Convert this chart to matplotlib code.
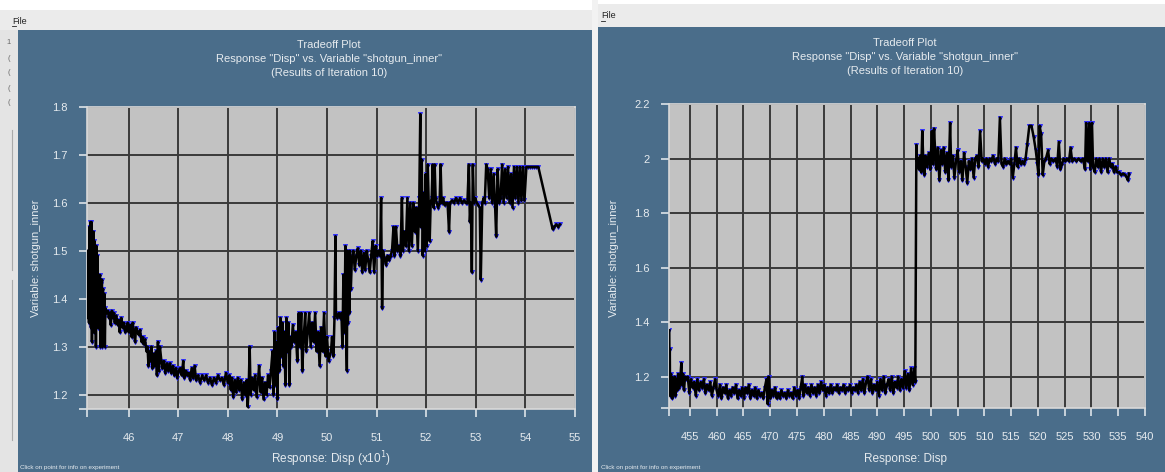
import matplotlib
matplotlib.use("Agg")
import matplotlib.pyplot as plt
from matplotlib.patches import Rectangle

plt.rcParams['font.family'] = ['Liberation Sans', 'DejaVu Sans']

# ---------------- data: left panel (Response Disp in units of 10) ----------------
left_x = [
    45.17, 45.18, 45.19, 45.20, 45.21, 45.22, 45.23, 45.24, 45.25, 45.26, 45.27, 45.28, 45.29, 45.30,
    45.31, 45.32, 45.33, 45.34, 45.35, 45.36, 45.37, 45.38, 45.40, 45.41, 45.42, 45.43, 45.44, 45.45,
    45.46, 45.47, 45.48, 45.50, 45.51, 45.52, 45.53, 45.55,
    45.58, 45.60, 45.62, 45.64, 45.66, 45.68, 45.70, 45.72, 45.75, 45.78, 45.80, 45.82, 45.85, 45.88,
    45.90, 45.93, 45.95, 45.98, 46.00, 46.03, 46.06, 46.08, 46.10, 46.13, 46.15, 46.18, 46.20, 46.23,
    46.26, 46.28, 46.30, 46.33,
    46.36, 46.38, 46.40, 46.42, 46.44, 46.46, 46.48, 46.50, 46.52, 46.55, 46.57, 46.59, 46.61, 46.63,
    46.66, 46.68, 46.71, 46.74, 46.77, 46.80, 46.83, 46.86, 46.89, 46.92, 46.95, 46.98, 47.01,
    47.04, 47.07, 47.10, 47.12, 47.15, 47.18, 47.21, 47.24, 47.27, 47.30, 47.33, 47.36, 47.40, 47.44,
    47.48, 47.52, 47.56, 47.60, 47.64, 47.68, 47.72, 47.76, 47.80, 47.84, 47.88, 47.92, 47.96,
    48.00, 48.03, 48.06, 48.08, 48.11, 48.14, 48.17, 48.20, 48.23, 48.26, 48.29, 48.32, 48.35, 48.38,
    48.40, 48.42, 48.44, 48.46, 48.49, 48.52, 48.55, 48.58, 48.61, 48.63, 48.66, 48.69, 48.72, 48.75,
    48.78, 48.81, 48.84, 48.87,
    48.90, 48.92, 48.94, 48.96, 48.98, 49.00, 49.02, 49.04, 49.06, 49.08, 49.10, 49.12, 49.14, 49.16,
    49.18, 49.20, 49.22, 49.24, 49.26, 49.28, 49.31, 49.34, 49.37, 49.40, 49.43, 49.45, 49.48, 49.50,
    49.53, 49.56, 49.58, 49.61, 49.64, 49.67, 49.70, 49.73, 49.76, 49.79, 49.82, 49.85, 49.88, 49.91,
    49.94, 49.97, 50.00, 50.03,
    50.08, 50.10, 50.13, 50.15, 50.17, 50.18, 50.21, 50.24, 50.27, 50.29, 50.31, 50.33, 50.35, 50.37,
    50.38, 50.40, 50.41, 50.42, 50.44, 50.45, 50.46, 50.48,
    50.50, 50.53, 50.56, 50.59, 50.62, 50.65, 50.68, 50.71, 50.74, 50.77, 50.80, 50.83, 50.86, 50.89,
    50.92, 50.95, 50.98, 51.01, 51.04, 51.07, 51.09, 51.11, 51.13, 51.16, 51.19, 51.22, 51.25, 51.28,
    51.31, 51.34, 51.36, 51.39, 51.42, 51.45, 51.48, 51.51, 51.53, 51.56, 51.59, 51.62, 51.65, 51.68,
    51.71, 51.74, 51.77, 51.80, 51.83,
    51.86, 51.88, 51.89, 51.91, 51.93, 51.95, 51.97, 51.99, 52.01, 52.03, 52.05, 52.07, 52.09, 52.11,
    52.13, 52.15, 52.17, 52.19, 52.21, 52.24,
    52.27, 52.29, 52.31, 52.34, 52.37, 52.40, 52.43, 52.46, 52.48, 52.52, 52.56, 52.60, 52.64, 52.68,
    52.72, 52.76, 52.80, 52.83, 52.86, 52.88, 52.90, 52.92, 52.94, 52.96, 52.99, 53.02, 53.05, 53.08,
    53.10, 53.13, 53.16, 53.18, 53.21,
    53.24, 53.27, 53.30, 53.33, 53.36, 53.39, 53.41, 53.44, 53.47, 53.50, 53.53, 53.56, 53.59, 53.62,
    53.65, 53.68, 53.71, 53.74, 53.77, 53.80, 53.83, 53.86, 53.89, 53.92, 53.95, 53.98, 54.02, 54.06,
    54.10, 54.14, 54.18, 54.22, 54.26, 54.55, 54.58, 54.62, 54.66, 54.69,
]
left_y = [
    1.50, 1.36, 1.47, 1.35, 1.55, 1.37, 1.56, 1.34, 1.56, 1.31, 1.53, 1.36, 1.54, 1.33,
    1.52, 1.35, 1.50, 1.30, 1.51, 1.38, 1.49, 1.34, 1.44, 1.36, 1.45, 1.30, 1.43, 1.35,
    1.44, 1.30, 1.42, 1.36, 1.41, 1.30, 1.38, 1.37,
    1.375, 1.36, 1.37, 1.345, 1.375, 1.36, 1.37, 1.35, 1.365, 1.345, 1.355, 1.33, 1.36, 1.34,
    1.35, 1.33, 1.34, 1.35, 1.33, 1.345, 1.32, 1.35, 1.335, 1.31, 1.34, 1.33, 1.325, 1.335,
    1.31, 1.32, 1.305, 1.315,
    1.29, 1.30, 1.26, 1.29, 1.27, 1.30, 1.255, 1.285, 1.26, 1.29, 1.24, 1.31, 1.25, 1.30,
    1.27, 1.255, 1.27, 1.245, 1.265, 1.25, 1.265, 1.245, 1.26, 1.24, 1.255, 1.235, 1.25,
    1.255, 1.24, 1.27, 1.235, 1.25, 1.24, 1.245, 1.23, 1.255, 1.235, 1.26, 1.23, 1.24, 1.225,
    1.24, 1.23, 1.24, 1.225, 1.235, 1.22, 1.235, 1.225, 1.24, 1.23, 1.235, 1.22, 1.245,
    1.225, 1.24, 1.21, 1.235, 1.195, 1.23, 1.205, 1.235, 1.21, 1.23, 1.19, 1.225, 1.20, 1.23,
    1.175, 1.215, 1.30, 1.20, 1.235, 1.21, 1.24, 1.195, 1.23, 1.26, 1.205, 1.235, 1.19, 1.225,
    1.20, 1.24, 1.215, 1.25,
    1.29, 1.20, 1.33, 1.22, 1.31, 1.19, 1.34, 1.25, 1.36, 1.28, 1.35, 1.26, 1.33, 1.22,
    1.36, 1.29, 1.35, 1.22, 1.32, 1.30, 1.345, 1.31, 1.33, 1.27, 1.37, 1.30, 1.37, 1.25,
    1.32, 1.37, 1.29, 1.33, 1.37, 1.30, 1.35, 1.31, 1.37, 1.29, 1.33, 1.26, 1.34, 1.29,
    1.37, 1.28, 1.32, 1.27,
    1.29, 1.32, 1.28, 1.36, 1.53, 1.37, 1.36, 1.37, 1.36, 1.37, 1.30, 1.45, 1.33, 1.51,
    1.36, 1.25, 1.50, 1.35, 1.49, 1.37, 1.50, 1.42,
    1.48, 1.50, 1.46, 1.49, 1.505, 1.47, 1.50, 1.455, 1.495, 1.46, 1.50, 1.48, 1.455, 1.49,
    1.52, 1.455, 1.51, 1.49, 1.50, 1.49, 1.61, 1.38, 1.50, 1.485, 1.47, 1.49, 1.48, 1.49,
    1.50, 1.55, 1.49, 1.55, 1.50, 1.51, 1.49, 1.61, 1.50, 1.54, 1.51, 1.61, 1.50, 1.60,
    1.51, 1.60, 1.54, 1.59, 1.50,
    1.61, 1.785, 1.55, 1.69, 1.49, 1.62, 1.50, 1.66, 1.51, 1.68, 1.60, 1.52, 1.60, 1.61,
    1.68, 1.59, 1.68, 1.61, 1.60, 1.59,
    1.60, 1.68, 1.60, 1.61, 1.595, 1.60, 1.60, 1.54, 1.60, 1.605, 1.60, 1.61, 1.60, 1.61,
    1.60, 1.605, 1.60, 1.60, 1.68, 1.56, 1.60, 1.455, 1.68, 1.60, 1.61, 1.60, 1.595, 1.59,
    1.44, 1.60, 1.61, 1.60, 1.68,
    1.67, 1.61, 1.67, 1.60, 1.66, 1.59, 1.53, 1.67, 1.60, 1.61, 1.68, 1.60, 1.67, 1.61,
    1.675, 1.60, 1.66, 1.59, 1.675, 1.61, 1.675, 1.60, 1.675, 1.605, 1.675, 1.605, 1.675, 1.675,
    1.675, 1.675, 1.675, 1.675, 1.675, 1.545, 1.55, 1.555, 1.55, 1.555,
]

# ---------------- data: right panel (Response Disp) ----------------
right_x = [
    451.15, 451.2, 451.25, 451.3, 451.4, 451.5, 451.6, 451.7, 451.85, 452.0, 452.15, 452.3, 452.5,
    452.65, 452.8, 453.0, 453.2, 453.4, 453.55, 453.7, 453.9, 454.1, 454.3,
    454.6, 454.9, 455.2, 455.5, 455.8, 456.1, 456.4, 456.7, 457.0, 457.3, 457.6, 457.9, 458.2, 458.5,
    458.8, 459.1, 459.4, 459.7,
    460.0, 460.3, 460.6, 460.9, 461.2, 461.5, 461.8, 462.1, 462.4, 462.7, 463.0, 463.3, 463.6, 463.9,
    464.2, 464.5, 464.8, 465.1, 465.4, 465.7, 466.0, 466.3, 466.6, 466.9, 467.2, 467.5, 467.8, 468.1,
    468.4, 468.7, 469.0,
    469.3, 469.5, 469.7, 470.0, 470.3, 470.6, 470.9, 471.2, 471.5, 471.8, 472.1, 472.4, 472.7, 473.0,
    473.3, 473.6, 473.9, 474.2, 474.5, 474.8, 475.1, 475.4, 475.7,
    476.0, 476.2, 476.5, 476.8, 477.1, 477.4, 477.7, 478.0, 478.3, 478.6, 478.9, 479.2, 479.5, 479.8,
    480.1, 480.4, 480.7, 481.0, 481.3, 481.6, 481.9, 482.2, 482.5, 482.8, 483.1, 483.4, 483.7, 484.0,
    484.3, 484.6, 484.9, 485.2, 485.5, 485.8, 486.1, 486.4,
    486.7, 487.0, 487.3, 487.6, 487.9, 488.2, 488.5, 488.8, 489.1, 489.4, 489.7, 490.0, 490.3, 490.6,
    490.9, 491.2, 491.5, 491.8, 492.1, 492.4, 492.7, 493.0, 493.3, 493.6, 493.9, 494.2, 494.5, 494.8,
    495.1, 495.4, 495.7, 496.0, 496.3, 496.6, 496.9, 497.1,
    497.3, 497.45, 497.6, 497.8, 498.0, 498.2, 498.4, 498.6, 498.8, 499.0, 499.3, 499.6, 499.9, 500.2,
    500.4, 500.6, 500.8, 501.0, 501.3, 501.6, 501.9, 502.1, 502.4, 502.7, 503.0, 503.3, 503.6, 503.8,
    504.1, 504.4, 504.7, 505.0, 505.3, 505.6, 505.9, 506.2, 506.5, 506.8, 507.1, 507.4, 507.7, 508.0,
    508.3, 508.6, 508.9, 509.2, 509.5, 509.8, 510.1, 510.4, 510.7, 511.0, 511.3, 511.6, 512.0, 512.3,
    512.6, 512.9, 513.2, 513.5, 513.8, 514.1, 514.4, 514.7, 515.0, 515.3, 515.6, 515.9, 516.2, 516.5,
    516.8, 517.1, 517.4, 517.7, 518.0, 518.4, 518.8, 519.2, 519.6, 519.9, 520.1, 520.3, 520.6, 520.9,
    521.2, 521.5, 521.9, 522.2, 522.5, 522.9, 523.3, 523.6, 523.9, 524.2, 524.5, 524.8, 525.1, 525.4,
    525.8, 526.1, 526.4, 526.8, 527.2, 527.6, 528.0, 528.4, 528.8, 529.0, 529.3, 529.6, 529.8, 530.1,
    530.3, 530.6, 530.9, 531.2, 531.5, 531.8, 532.1, 532.4, 532.7, 533.0, 533.3, 533.6, 533.9, 534.2,
    534.5, 534.8, 535.1, 535.5, 535.9, 536.3, 536.6, 536.8, 537.0,
]
right_y = [
    1.37, 1.20, 1.30, 1.13, 1.21, 1.15, 1.20, 1.12, 1.19, 1.14, 1.20, 1.13, 1.19,
    1.15, 1.21, 1.16, 1.19, 1.25, 1.17, 1.21, 1.15, 1.20, 1.19,
    1.20, 1.14, 1.19, 1.16, 1.18, 1.13, 1.19, 1.15, 1.18, 1.16, 1.19, 1.14, 1.17, 1.15,
    1.18, 1.13, 1.16, 1.19,
    1.15, 1.13, 1.17, 1.12, 1.16, 1.14, 1.17, 1.12, 1.15, 1.13, 1.16, 1.14, 1.17, 1.12,
    1.15, 1.13, 1.16, 1.12, 1.16, 1.14, 1.17, 1.12, 1.15, 1.13, 1.16, 1.12, 1.15, 1.13,
    1.14, 1.12, 1.16,
    1.19, 1.10, 1.20, 1.12, 1.15, 1.13, 1.16, 1.12, 1.14, 1.12, 1.15, 1.13, 1.14, 1.12,
    1.15, 1.13, 1.14, 1.12, 1.16, 1.13, 1.15, 1.12, 1.16,
    1.20, 1.13, 1.17, 1.14, 1.16, 1.13, 1.17, 1.14, 1.16, 1.13, 1.17, 1.14, 1.18, 1.15,
    1.17, 1.13, 1.16, 1.14, 1.17, 1.14, 1.16, 1.15, 1.17, 1.14, 1.16, 1.15, 1.17, 1.14,
    1.16, 1.15, 1.17, 1.14, 1.16, 1.15, 1.17, 1.14,
    1.18, 1.15, 1.19, 1.14, 1.18, 1.20, 1.15, 1.19, 1.14, 1.17, 1.15, 1.18, 1.13, 1.19,
    1.15, 1.20, 1.14, 1.17, 1.19, 1.15, 1.20, 1.14, 1.18, 1.16, 1.20, 1.15, 1.19, 1.16,
    1.22, 1.16, 1.21, 1.15, 1.23, 1.17, 1.23, 1.18,
    2.05, 1.99, 2.00, 1.96, 2.01, 1.95, 2.10, 1.99, 1.94, 2.01, 1.97, 2.02, 1.96, 2.10,
    1.98, 2.11, 2.03, 1.96, 2.04, 1.92, 2.03, 1.98, 2.04, 1.95, 2.02, 1.92, 2.13, 1.97,
    2.01, 1.93, 1.99, 2.03, 1.95, 1.99, 1.92, 2.02, 1.97, 1.91, 1.99, 1.96, 2.00, 1.93,
    2.00, 2.01, 1.97, 2.10, 1.99, 2.00, 1.98, 2.00, 1.97, 2.00, 1.99, 2.01, 1.98, 2.00,
    1.99, 2.15, 1.98, 1.97, 2.00, 1.98, 1.99, 1.98, 2.00, 1.93, 1.98, 2.04, 1.97, 2.00,
    1.98, 1.99, 1.98, 2.00, 2.05, 2.12, 2.12, 2.08, 2.03, 1.98, 1.94, 2.12, 2.09, 1.94,
    1.99, 2.00, 2.03, 1.98, 2.00, 1.99, 2.00, 1.97, 2.06, 1.96, 1.98, 2.00, 1.99, 2.00,
    1.99, 2.04, 1.99, 2.00, 1.99, 2.00, 1.99, 2.00, 1.96, 2.13, 1.99, 2.13, 1.96, 2.13,
    1.97, 1.95, 2.00, 1.97, 2.00, 1.95, 2.00, 1.97, 2.00, 1.95, 2.00, 1.97, 1.98, 1.95,
    1.97, 1.95, 1.95, 1.94, 1.945, 1.94, 1.93, 1.92, 1.945,
]

left_xticks = [46, 47, 48, 49, 50, 51, 52, 53, 54, 55]
left_yticks = [1.2, 1.3, 1.4, 1.5, 1.6, 1.7, 1.8]
right_xticks = [455, 460, 465, 470, 475, 480, 485, 490, 495, 500, 505, 510, 515, 520,
                525, 530, 535, 540]
right_yticks = [1.2, 1.4, 1.6, 1.8, 2.0, 2.2]

title_lines = ['Tradeoff Plot', 'Response "Disp" vs. Variable "shotgun_inner"',
               '(Results of Iteration 10)']
left_xlabel = 'Response: Disp (x10$^{1}$)'
right_xlabel = 'Response: Disp'
ylabel = 'Variable: shotgun_inner'
footer = 'Click on point for info on experiment'

# ---------------- styling ----------------
W, H = 1165, 472
BLUE = '#4a6d8a'
PLOT_BG = '#c2c2c2'
TXT = '#e6ebef'
MENU = '#ebebeb'

fig = plt.figure(figsize=(W / 100, H / 100), dpi=100)
fig.patch.set_facecolor('white')

bg = fig.add_axes([0, 0, 1, 1])
bg.set_xlim(0, W)
bg.set_ylim(H, 0)
bg.axis('off')

def rect(x0, y0, x1, y1, color, z=0):
    bg.add_patch(Rectangle((x0, y0), x1 - x0, y1 - y0, facecolor=color, edgecolor='none', zorder=z))

# left window
rect(0, 10, 592, 30, MENU)
rect(0, 30, 18, 472, '#e4e4e4')
rect(18, 30, 592, 472, BLUE)
bg.text(12, 21, 'File', fontsize=6.5, color='#222222', va='center', ha='left')
bg.plot([12, 16], [26, 26], color='#222222', lw=0.6)
for yy, ch in [(43, '1'), (58, '('), (73, '('), (88, '('), (103, '(')]:
    bg.text(9, yy, ch, fontsize=5.5, color='#666666', va='center', ha='center')
bg.plot([12, 12], [130, 270], color='#aaaaaa', lw=0.8)
bg.plot([12, 12], [280, 440], color='#aaaaaa', lw=0.8)
# separator
rect(592, 0, 598, 472, '#f2f2f2')
# right window
rect(598, 4, W, 27, MENU)
rect(598, 27, W, 472, BLUE)
bg.text(601, 16, 'File', fontsize=6.5, color='#222222', va='center', ha='left')
bg.plot([601, 605], [21, 21], color='#222222', lw=0.6)

# titles / labels / footers
for cx, ys in [(329, (45, 59, 73)), (905, (43, 57, 71))]:
    for t, yy in zip(title_lines, ys):
        bg.text(cx, yy, t, fontsize=8, color=TXT, ha='center', va='center')
bg.text(36, 258, ylabel, fontsize=8, color=TXT, rotation=90, ha='center', va='center')
bg.text(614, 258, ylabel, fontsize=8, color=TXT, rotation=90, ha='center', va='center')
bg.text(331, 459, left_xlabel, fontsize=8.5, color=TXT, ha='center', va='center')
bg.text(906, 459, right_xlabel, fontsize=8.5, color=TXT, ha='center', va='center')
bg.text(20, 468, footer, fontsize=4.5, color=TXT, ha='left', va='center')
bg.text(601, 468, footer, fontsize=4.5, color=TXT, ha='left', va='center')


def make_panel(rect_px, xs, ys, xlim, ylim, xticks, yticks, xfmt, yfmt):
    x0, y0, x1, y1 = rect_px
    ax = fig.add_axes([x0 / W, 1 - y1 / H, (x1 - x0) / W, (y1 - y0) / H])
    ax.set_facecolor(PLOT_BG)
    ax.set_xlim(*xlim)
    ax.set_ylim(*ylim)
    for v in xticks:
        ax.axvline(v, color='#3a3a3a', lw=1.4, zorder=1)
    for v in yticks:
        ax.axhline(v, color='#3a3a3a', lw=1.4, zorder=1)
    ax.plot(xs, ys, color='none', lw=0, zorder=2,
            marker='v', markersize=3.0, markerfacecolor='#2a2aff',
            markeredgecolor='#2a2aff', markeredgewidth=0.6)
    ax.plot(xs, ys, color='black', lw=1.8, zorder=3,
            marker='o', markersize=1.6, markerfacecolor='black',
            markeredgecolor='black', markeredgewidth=0)
    ax.set_xticks([xlim[0]] + list(xticks))
    ax.set_xticklabels([''] + [xfmt(v) for v in xticks])
    ax.set_yticks([ylim[0]] + list(yticks))
    ax.set_yticklabels([''] + [yfmt(v) for v in yticks])
    ax.tick_params(axis='both', colors='#dde3e8', labelcolor=TXT, labelsize=8,
                   length=6, width=1.2, direction='out')
    ax.tick_params(axis='x', pad=11)
    ax.tick_params(axis='y', pad=8)
    for s in ax.spines.values():
        s.set_color('#d9d9d9')
        s.set_linewidth(1.2)
    return ax

make_panel((87, 107, 575, 409), left_x, left_y, (45.16, 55.0), (1.17, 1.8),
           left_xticks, left_yticks, lambda v: f'{v:d}', lambda v: f'{v:.1f}')
make_panel((669, 104, 1145, 408), right_x, right_y, (451.1, 540.0), (1.085, 2.2),
           right_xticks, right_yticks, lambda v: f'{v:d}', lambda v: f'{v:g}' if v == 2.0 else f'{v:.1f}')

fig.savefig('out.png', dpi=100, facecolor=fig.get_facecolor())
